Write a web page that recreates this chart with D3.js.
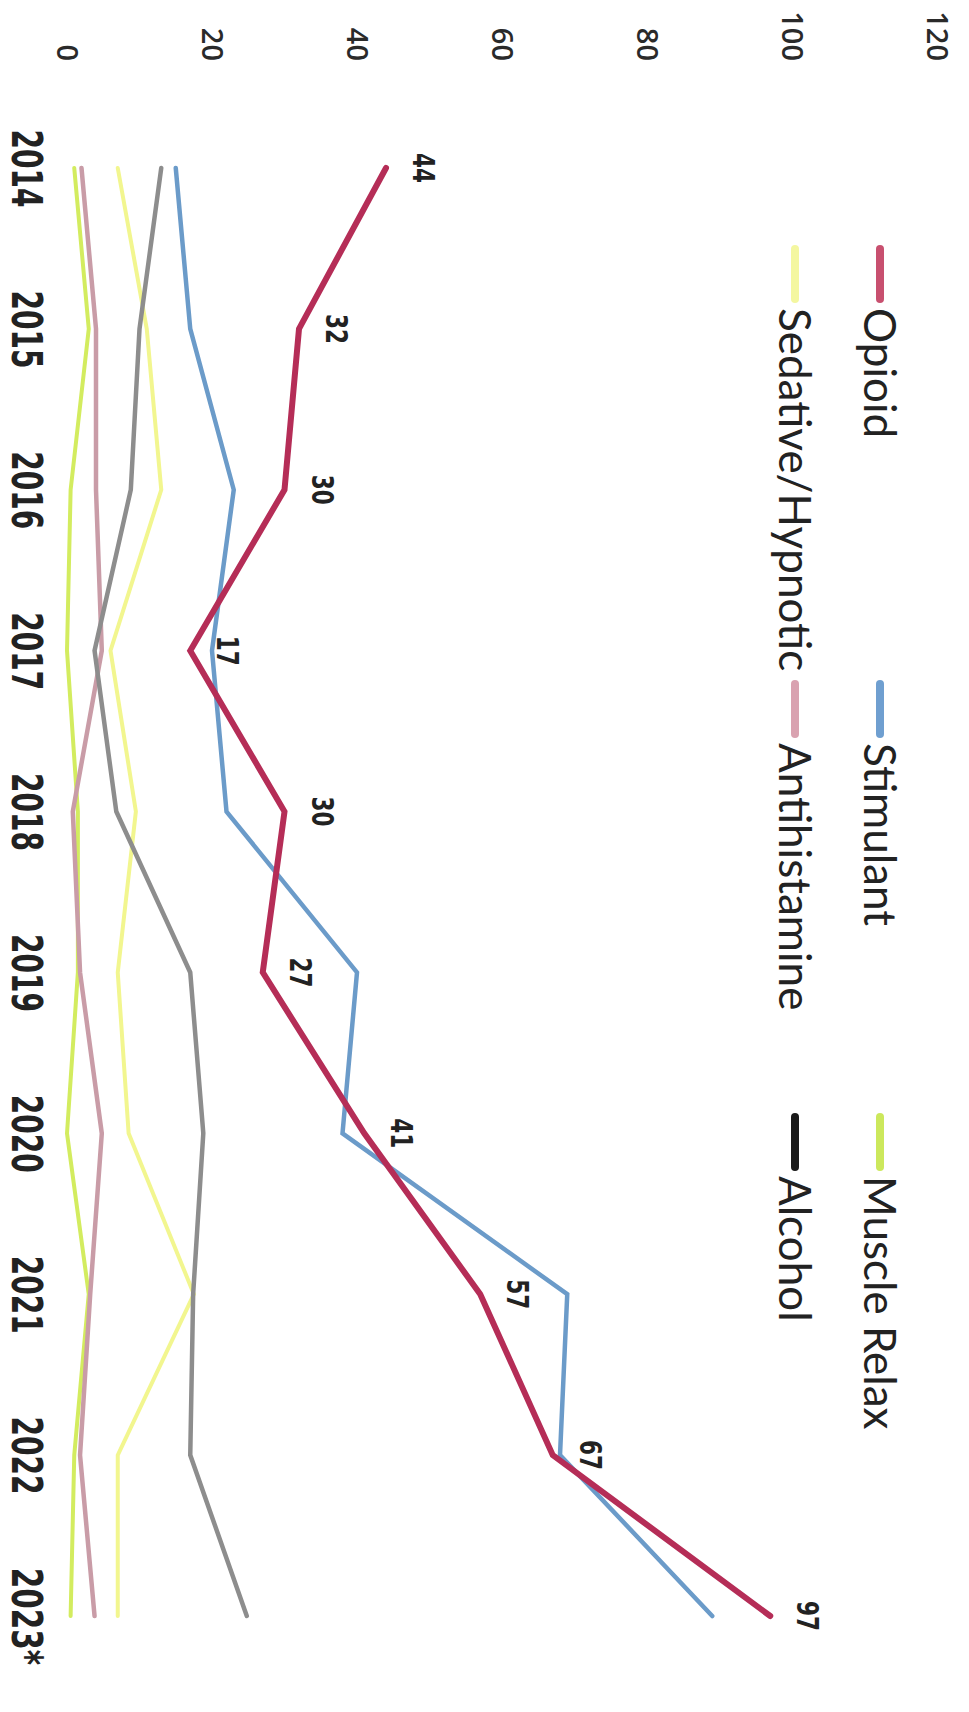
<!DOCTYPE html>
<html><head><meta charset="utf-8">
<script src="https://cdn.jsdelivr.net/npm/d3@7"></script>
<style>html,body{margin:0;padding:0;background:#fff;}</style>
</head><body>
<svg id="chart" width="969" height="1712"></svg>
<script>
// ---- data ----
const years = ["2014","2015","2016","2017","2018","2019","2020","2021","2022","2023*"];
const yTicks = [0, 20, 40, 60, 80, 100, 120];
const seriesNames = ["Opioid","Stimulant","Muscle Relax","Sedative/Hypnotic","Antihistamine","Alcohol"];
const opioid       = [44, 32, 30, 17, 30, 27, 41, 57, 67, 97];
const stimulant    = [15, 17, 23, 20, 22, 40, 38, 69, 68, 89];
const muscleRelax  = [1, 3, 0.5, 0, 1.5, 1.5, 0, 3, 1, 0.5];
const sedative     = [7, 11, 13, 6, 9.5, 7, 8.5, 17.5, 7, 7];
const antihist     = [2, 4, 4, 4.8, 0.8, 1.8, 4.8, 3.2, 1.8, 3.8];
const alcohol      = [13, 10, 8.8, 3.8, 6.8, 17, 18.8, 17.4, 17, 24.8];
const opioidLabels = [44, 32, 30, 17, 30, 27, 41, 57, 67, 97];

const lineColors   = ["#b52d57", "#6b9bc9", "#d3ec5f", "#f2f68f", "#c99ca7", "#8d8d8d"];
const legendColors = ["#c8506f", "#6f9fd0", "#cce85c", "#f4f7a0", "#d9a2b0", "#1a1a1a"];
const lineWidths   = [6, 4.5, 4, 4, 4.5, 4.5];

const seriesData = [opioid, stimulant, muscleRelax, sedative, antihist, alcohol];
const drawOrder = [3, 2, 4, 5, 1, 0];

// ---- layout (unrotated frame, then rotated 90deg clockwise) ----
const PAGE_W = 969;
const svg = d3.select("#chart");
const g = svg.append("g").attr("transform", `translate(${PAGE_W},0) rotate(90)`);

const x = d3.scalePoint().domain(years).range([168, 1616]);
const y = d3.scaleLinear().domain([0, 120]).range([PAGE_W - 67, PAGE_W - 937]);

// value axis
const yAxis = g.append("g").attr("transform", "translate(61,0)")
  .call(d3.axisLeft(y).tickValues(yTicks).tickSize(0).tickPadding(0));
yAxis.select(".domain").remove();
yAxis.selectAll("text")
  .attr("font-family", "'Open Sans', Lato, sans-serif")
  .attr("font-size", 29)
  .attr("font-weight", 600)
  .attr("fill", "#2a2a2a");

// year axis
const xAxis = g.append("g").attr("transform", "translate(0,927)")
  .call(d3.axisBottom(x).tickSize(0).tickPadding(0));
xAxis.select(".domain").remove();
xAxis.selectAll("text")
  .attr("font-family", "'Liberation Sans Narrow', 'DejaVu Sans Condensed', 'Liberation Sans', sans-serif")
  .attr("font-weight", "bold")
  .attr("font-size", 42)
  .attr("fill", "#222")
  .attr("textLength", d => d.length * 19.5)
  .attr("lengthAdjust", "spacingAndGlyphs");

// lines
const line = d3.line().x((d, i) => x(years[i])).y(d => y(d));
drawOrder.forEach(k => {
  g.append("path")
    .datum(seriesData[k])
    .attr("d", line)
    .attr("fill", "none")
    .attr("stroke", lineColors[k])
    .attr("stroke-width", lineWidths[k])
    .attr("stroke-linejoin", "miter")
    .attr("stroke-linecap", "round");
});

// opioid value labels
g.append("g").selectAll("text")
  .data(opioidLabels)
  .join("text")
  .attr("x", (d, i) => x(years[i]))
  .attr("y", (d, i) => y(opioid[i]) - 38)
  .attr("dy", "0.35em")
  .attr("text-anchor", "middle")
  .attr("font-family", "'Liberation Sans Narrow', 'DejaVu Sans Condensed', 'Liberation Sans', sans-serif")
  .attr("font-weight", "bold")
  .attr("font-size", 31)
  .attr("fill", "#222")
  .attr("textLength", d => String(d).length * 15)
  .attr("lengthAdjust", "spacingAndGlyphs")
  .text(d => d);

// legend: two rows of three
const legendCols = [245, 680, 1113];
const legendRows = [89, 174];
const legend = g.append("g");
seriesNames.forEach((name, i) => {
  const cx = legendCols[i % 3];
  const cy = legendRows[Math.floor(i / 3)];
  legend.append("line")
    .attr("x1", cx + 4).attr("x2", cx + 54)
    .attr("y1", cy).attr("y2", cy)
    .attr("stroke", legendColors[i])
    .attr("stroke-width", 8)
    .attr("stroke-linecap", "round");
  legend.append("text")
    .attr("x", cx + 63).attr("y", cy)
    .attr("dy", "0.36em")
    .attr("font-family", "Lato, 'Open Sans', sans-serif")
    .attr("font-size", 44)
    .attr("fill", "#222")
    .text(name);
});
</script>
</body></html>
